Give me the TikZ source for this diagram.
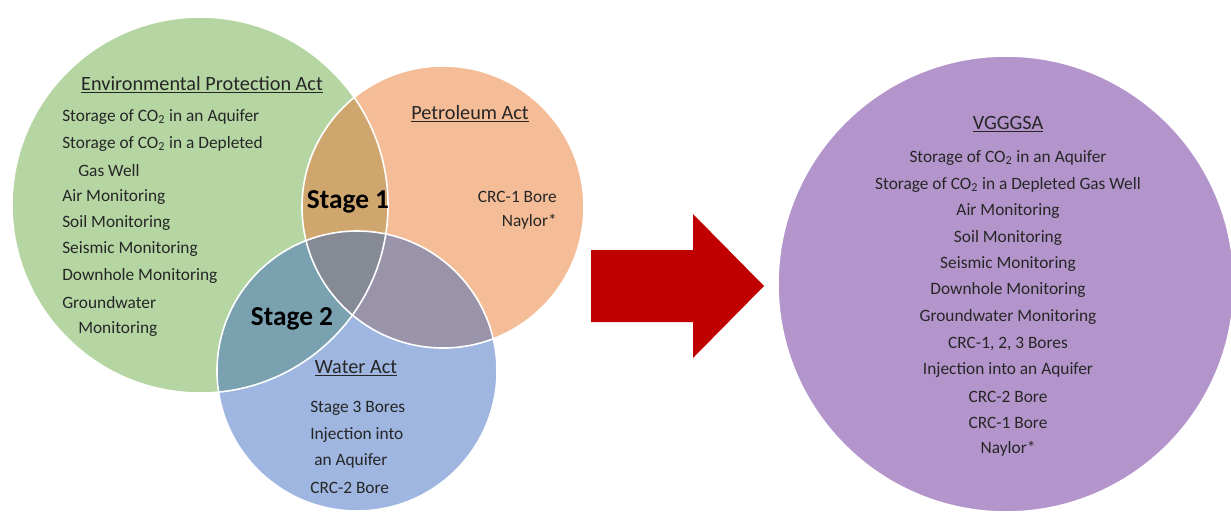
\documentclass[tikz,border=0pt]{standalone}
\usepackage{fontspec}
\setmainfont{Carlito}
\definecolor{envgreen}{HTML}{B5D6A3}
\definecolor{petorange}{HTML}{F5BD97}
\definecolor{watblue}{HTML}{9EB6E0}
\definecolor{vgpurple}{HTML}{B395CC}
\definecolor{stageone}{HTML}{CFA66D}
\definecolor{stagetwo}{HTML}{7AA1B0}
\definecolor{petwat}{HTML}{9A94AB}
\definecolor{allthree}{HTML}{868A94}
\definecolor{arrowred}{HTML}{C00000}
\definecolor{inktext}{HTML}{262626}

\tikzset{
  ring/.style={white, line width=1.2},
  item/.style={inner sep=0pt, text=inktext, font=\fontsize{13}{15}\selectfont},
  head/.style={item, font=\fontsize{15.2}{17}\selectfont},
  stage/.style={inner sep=0pt, text=black, font=\fontsize{20.5}{23}\selectfont\bfseries}
}

\begin{document}
\begin{tikzpicture}[x=0.75pt,y=-0.75pt]
      \useasboundingbox (0,0) rectangle (1231,512);
      \coordinate (gc) at (200,205);
      \coordinate (oc) at (443,207);
      \coordinate (bc) at (357,371);
      \coordinate (pc) at (1006,284);

      % circles
      \fill[envgreen] (gc) circle (188);
      \fill[petorange] (oc) circle (141);
      \fill[watblue] (bc) circle (140);
      \fill[vgpurple] (pc) circle (228);

      % overlaps
      \begin{scope}
        \clip (gc) circle (188);
        \fill[stageone] (oc) circle (141);
        \fill[stagetwo] (bc) circle (140);
      \end{scope}
      \begin{scope}
        \clip (oc) circle (141);
        \fill[petwat] (bc) circle (140);
        \clip (gc) circle (188);
        \fill[allthree] (bc) circle (140);
      \end{scope}
      \draw[ring] (gc) circle (188);
      \draw[ring] (oc) circle (141);
      \draw[ring] (bc) circle (140);
      \draw[ring] (pc) circle (228);

      % Environmental Protection Act
      \node[head] (envhead) at (202,85) {\underline{Environmental Protection Act}};
      \node[item, anchor=west] (e1) at (62,117) {Storage of CO\textsubscript{2} in an Aquifer};
      \node[item, anchor=west] (e2) at (62,144) {Storage of CO\textsubscript{2} in a Depleted};
      \node[item, anchor=west] (e3) at (78,171) {Gas Well};
      \node[item, anchor=west] (e4) at (62,197) {Air Monitoring};
      \node[item, anchor=west] (e5) at (62,223) {Soil Monitoring};
      \node[item, anchor=west] (e6) at (62,249) {Seismic Monitoring};
      \node[item, anchor=west] (e7) at (62,276) {Downhole Monitoring};
      \node[item, anchor=west] (e8) at (62,303) {Groundwater};
      \node[item, anchor=west] (e9) at (78,329) {Monitoring};

      % Petroleum Act
      \node[head] (pethead) at (470,114) {\underline{Petroleum Act}};
      \node[item, anchor=east] (p1) at (557,197) {CRC-1 Bore};
      \node[item, anchor=east] (p2) at (557,222) {Naylor*};

      % Water Act
      \node[head] (wathead) at (356,368) {\underline{Water Act}};
      \node[item, anchor=west] (w1) at (310,408) {Stage 3 Bores};
      \node[item, anchor=west] (w2) at (310,435) {Injection into};
      \node[item, anchor=west] (w3) at (314,461) {an Aquifer};
      \node[item, anchor=west] (w4) at (310,488) {CRC-2 Bore};

      % stages
      \node[stage] (s1) at (348,202) {Stage 1};
      \node[stage] (s2) at (292,319) {Stage 2};

      % arrow
      \fill[arrowred] (591,250) -- (693,250) -- (693,214) -- (764,286)
        -- (693,358) -- (693,322) -- (591,322) -- cycle;

      % VGGGSA
      \node[head] (vghead) at (1008,124) {\underline{VGGGSA}};
      \node[item] (v1) at (1008,158) {Storage of CO\textsubscript{2} in an Aquifer};
      \node[item] (v2) at (1008,185) {Storage of CO\textsubscript{2} in a Depleted Gas Well};
      \node[item] (v3) at (1008,211) {Air Monitoring};
      \node[item] (v4) at (1008,238) {Soil Monitoring};
      \node[item] (v5) at (1008,264) {Seismic Monitoring};
      \node[item] (v6) at (1008,290) {Downhole Monitoring};
      \node[item] (v7) at (1008,317) {Groundwater Monitoring};
      \node[item] (v8) at (1008,344) {CRC-1, 2, 3 Bores};
      \node[item] (v9) at (1008,370) {Injection into an Aquifer};
      \node[item] (v10) at (1008,397) {CRC-2 Bore};
      \node[item] (v11) at (1008,423) {CRC-1 Bore};
      \node[item] (v12) at (1008,449) {Naylor*};
    \end{tikzpicture}
\end{document}
